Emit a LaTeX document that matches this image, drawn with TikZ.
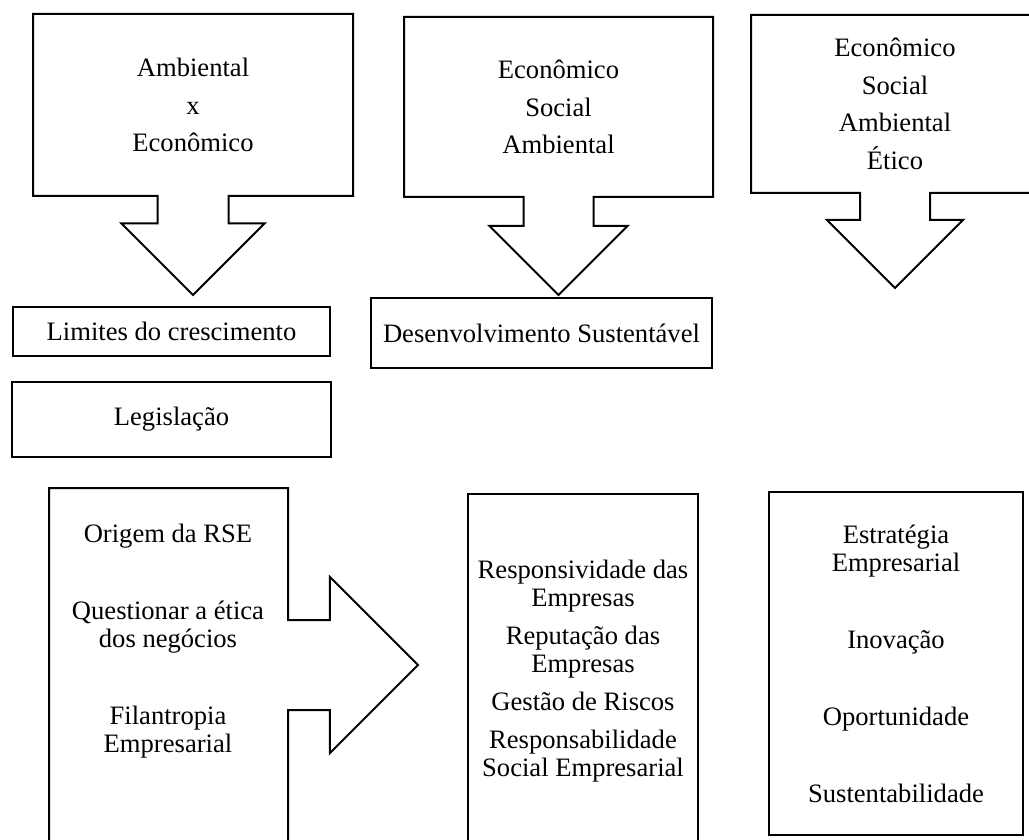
\documentclass[tikz,border=0pt]{standalone}
\usepackage{fontspec}
\setmainfont{Liberation Serif}
\usetikzlibrary{shapes.arrows,positioning}

\begin{document}
\begin{tikzpicture}[
  x=0.5pt, y=-0.5pt,
  font=\fontsize{13.3}{14}\selectfont,
  line width=1pt,
  box/.style={draw, align=center, inner sep=0pt, outer sep=0pt},
  callout/.style={box, shape=arrow box, arrow box tip angle=90, font=\fontsize{13.3}{18.75}\selectfont},
  txt/.style={align=center, inner sep=0pt}
]
\path[use as bounding box, clip] (0,0) rectangle (1029,840);
\node[callout, minimum width=160pt, minimum height=91pt, arrow box shaft width=35.5pt, arrow box head extend=18pt, arrow box arrows={south:49.5pt}] (ambec) at (193,105) {Ambiental\\x\\Econômico};
\node[callout, minimum width=154.5pt, minimum height=90pt, arrow box shaft width=35pt, arrow box head extend=17pt, arrow box arrows={south:49pt}] (tripe) at (558.5,107) {Econômico\\Social\\Ambiental};
\node[callout, minimum width=144pt, minimum height=89pt, arrow box shaft width=35pt, arrow box head extend=16.5pt, arrow box arrows={south:47.5pt}] (etico) at (895,104) {Econômico\\Social\\Ambiental\\Ético};
\node[box, minimum width=158.5pt, minimum height=24.5pt] (limites) at (171.5,331.5) {Limites do crescimento};
\node[box, minimum width=159.5pt, minimum height=37.5pt, below=13pt of limites] (legis) {Legislação};
\node[box, minimum width=170.5pt, minimum height=35pt] (desenv) at (541.5,333) {Desenvolvimento Sustentável};
\node[callout, minimum width=119.5pt, minimum height=177pt, arrow box shaft width=45pt, arrow box head extend=21.5pt, arrow box arrows={east:65pt}] (origem) at (168.5,665) {};
\node[txt] (origemtxt) at (168,641) {Origem da RSE\\[24.5pt]Questionar a ética\\dos negócios\\[24.5pt]Filantropia\\Empresarial};
\node[box, minimum width=115pt, minimum height=177pt] (resp) at (583,671) {Responsividade das\\Empresas\\[5pt]Reputação das\\Empresas\\[5pt]Gestão de Riscos\\[5pt]Responsabilidade\\Social Empresarial};
\node[box, minimum width=127pt, minimum height=171.5pt] (estrat) at (896,663.5) {Estratégia\\Empresarial\\[24.5pt]Inovação\\[24.5pt]Oportunidade\\[24.5pt]Sustentabilidade};
\end{tikzpicture}
\end{document}
